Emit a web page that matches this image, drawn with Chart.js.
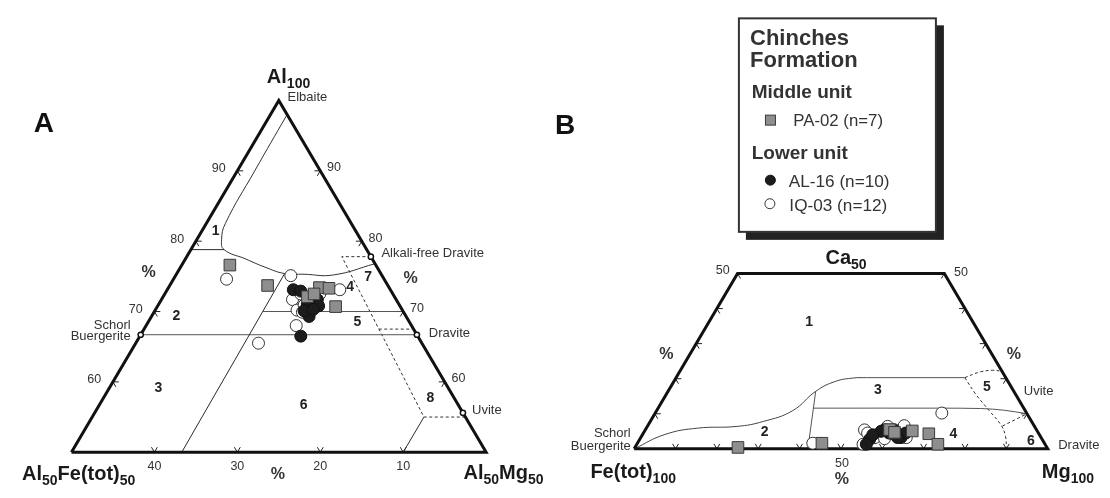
<!DOCTYPE html>
<html>
<head>
<meta charset="utf-8">
<title>Chinches Formation tourmaline - ternary diagrams</title>
<script src="https://cdn.jsdelivr.net/npm/chart.js@4.4.1/dist/chart.umd.min.js"></script>
<style>
  html, body { margin: 0; padding: 0; background: #fff; }
  canvas { display: block; }
</style>
</head>
<body>
<canvas id="tern" width="1110" height="498"></canvas>
<script>
const FONT = '"Liberation Sans", Arial, Helvetica, sans-serif';

// ---------- diagram A : Al100 / Al50Fe(tot)50 / Al50Mg50 ----------
// every pair is [Al %, Mg %]; Fe(tot) = 100 - Al - Mg
const aPA02 = [[76.6, 5.8], [73.7, 11.8], [73.4, 18.2], [73.3, 19.4], [72.1, 17.4], [70.7, 21.5], [72.5, 18.0]];
const aAL16 = [[73.1, 15.2], [72.9, 16.2], [71.1, 17.9], [71.7, 18.8], [70.8, 19.4],
               [69.3, 19.0], [66.5, 19.4], [70.1, 18.0], [72.3, 17.9], [70.3, 19.0]];
const aIQ03 = [[74.6, 6.4], [75.1, 13.9], [71.7, 15.8], [70.2, 17.1], [68.0, 18.1], [73.1, 20.8],
               [65.5, 14.8], [72.5, 16.4], [70.9, 17.6], [71.7, 18.4], [72.5, 18.7], [69.9, 17.9]];

// field boundaries (Henry & Guidotti 1985)
const aCurve1 = [[98, 2], [90, 2.1], [82.5, 2.3], [80.2, 3.0], [78.8, 4.0], [77.5, 7.2],
                 [76.3, 10.2], [75.4, 13.0], [75.3, 15.4], [75.2, 19.0], [76.8, 23.2]];
const aSolid = [
  [[78.8, 0], [78.8, 4.0]],
  [[50, 13.3], [75.4, 13.0]],
  [[50, 40], [55, 40]]
];
const aLevels = [
  [[70, 13.1], [70, 30]],
  [[66.7, 0], [66.7, 33.3]]
];
const aDashed = [
  [[77.8, 22.2], [77.8, 18.7], [55, 40], [55, 45]],
  [[67.5, 28.3], [67.5, 32.5]]
];
const aEndMembers = [[77.8, 22.2], [66.7, 33.3], [55.6, 44.4], [66.7, 0]];
const aSideTicks = [60, 70, 80, 90];       // Al on both sloping sides
const aBaseTicks = [40, 30, 20, 10];       // Fe(tot) along the base

// ---------- diagram B : Ca / Fe(tot)100 / Mg100 (cut at Ca50) ----------
// every pair is [Ca %, Mg %]; Fe(tot) = 100 - Ca - Mg
const bPA02 = [[0.4, 24.9], [1.6, 44.6], [5.5, 59.0], [4.7, 60.6], [5.1, 64.7], [4.3, 69.1], [1.3, 72.8]];
const bAL16 = [[2.7, 55.6], [1.3, 55.5], [5.4, 57.8], [3.2, 62.9], [4.5, 63.4],
               [4.5, 59.4], [5.0, 57.2], [3.2, 62.1], [4.0, 55.7], [5.4, 60.2]];
const bIQ03 = [[5.4, 53.0], [1.3, 54.7], [6.6, 62.0], [10.2, 69.3], [1.6, 42.4], [6.4, 58.1],
               [3.2, 56.6], [4.0, 62.1], [2.9, 59.1], [4.3, 60.3], [4.5, 54.2], [3.2, 64.2]];

const bCurve12 = [[0, 0], [4.1, 5.4], [5.9, 12.4], [6.4, 21.7], [7.8, 27.3], [10.9, 32.9],
                  [16.4, 35.7], [19.2, 39.0], [20.2, 43.0], [20.3, 46]];
const bSolid = [
  [[20.3, 46], [20.3, 69.8]],
  [[16.4, 35.7], [0, 42]]
];
const bCurve34 = [[11.6, 37.6], [11.6, 60], [11.5, 78], [11.0, 84], [10, 90]];
const bDashedUp = [[20.3, 69.8], [21.9, 72.6], [22.4, 75.5], [22.1, 77.9]];
const bDashedDown = [[20.3, 69.8], [15.5, 74.9], [10.9, 80.4], [6.8, 85.3], [3.6, 88.0], [0, 90]];
const bDashedShort = [[6.5, 85.8], [10, 90]];
const bSideTicks = [10, 20, 30, 40, 50];   // Ca
const bBaseTicks = [10, 20, 30, 40, 50, 60, 70, 80, 90];   // Mg

// ---------- projection ternary -> canvas units ----------
const SIN60 = Math.sqrt(3) / 2;
const frameA = { left: 63.3, right: 485, base: 460 };
const frameB = { left: 635.5, right: 1056, base: 456.5 };

const projA = (al, mg) => {
  const w = frameA.right - frameA.left;
  const a = (al - 50) / 50, m = mg / 50;
  return { x: frameA.left + w * (m + a / 2), y: frameA.base - w * SIN60 * a };
};
const projB = (ca, mg) => {
  const w = frameB.right - frameB.left;
  const c = ca / 100, m = mg / 100;
  return { x: frameB.left + w * (m + c / 2), y: frameB.base - w * SIN60 * c };
};

const pts = (proj, arr) => arr.map(p => proj(p[0], p[1]));
const GAP = { x: null, y: null };
const multi = (proj, list) => {
  const out = [];
  list.forEach((seg, i) => {
    if (i) out.push(GAP);
    seg.forEach(p => out.push(proj(p[0], p[1])));
  });
  return out;
};

// little chevrons pointing into the triangle
const rot = (v, t) => ({ x: v.x * Math.cos(t) - v.y * Math.sin(t), y: v.x * Math.sin(t) + v.y * Math.cos(t) });
function inward(p, q, c) {
  let n = { x: -(q.y - p.y), y: q.x - p.x };
  const l = Math.hypot(n.x, n.y);
  n = { x: n.x / l, y: n.y / l };
  if ((c.x - p.x) * n.x + (c.y - p.y) * n.y < 0) n = { x: -n.x, y: -n.y };
  return n;
}
function chevrons(list, len) {
  const out = [];
  list.forEach(([p, n], i) => {
    if (i) out.push(GAP);
    const a1 = rot(n, Math.PI / 6), a2 = rot(n, -Math.PI / 6);
    out.push({ x: p.x + a1.x * len, y: p.y + a1.y * len }, { x: p.x, y: p.y },
             { x: p.x + a2.x * len, y: p.y + a2.y * len });
  });
  return out;
}

const A_fe = projA(50, 0), A_mg = projA(50, 50), A_al = projA(100, 0);
const A_c = { x: (A_fe.x + A_mg.x + A_al.x) / 3, y: (A_fe.y + A_mg.y + A_al.y) / 3 };
const nAL = inward(A_fe, A_al, A_c), nAR = inward(A_mg, A_al, A_c), nAB = inward(A_fe, A_mg, A_c);
const ticksA = chevrons([
  ...aSideTicks.map(v => [projA(v, 0), nAL]),
  ...aSideTicks.map(v => [projA(v, 100 - v), nAR]),
  ...aBaseTicks.map(v => [projA(50, 50 - v), nAB])
], 6);

const B_fe = projB(0, 0), B_mg = projB(0, 100), B_tr = projB(50, 50), B_tl = projB(50, 0);
const B_c = projB(33, 33);
const nBL = inward(B_fe, B_tl, B_c), nBR = inward(B_mg, B_tr, B_c), nBB = inward(B_fe, B_mg, B_c);
const ticksB = chevrons([
  ...bSideTicks.map(v => [projB(v, 0), nBL]),
  ...bSideTicks.map(v => [projB(v, 100 - v), nBR]),
  ...bBaseTicks.map(v => [projB(0, v), nBB])
], 6);

// ---------- datasets ----------
const lineDs = (data, o) => Object.assign({
  data, showLine: true, pointRadius: 0, fill: false, tension: 0,
  borderColor: '#333', borderWidth: 1, order: 8
}, o);
const markDs = (data, style, o) => Object.assign({
  data, showLine: false, pointStyle: style, borderWidth: 1
}, o);

const squareStyle = { pointRadius: 8.2, backgroundColor: '#8e8e8e', borderColor: '#3a3a3a', order: 2 };
const blackStyle = { pointRadius: 6, backgroundColor: '#1c1c1c', borderColor: '#111', order: 3 };
const whiteStyle = { pointRadius: 6, backgroundColor: '#fff', borderColor: '#333', order: 4 };

const datasets = [
  lineDs([A_fe, A_mg, A_al, A_fe], { borderWidth: 3, borderColor: '#111', borderJoinStyle: 'miter', order: 6 }),
  lineDs([B_fe, B_mg, B_tr, B_tl, B_fe], { borderWidth: 3, borderColor: '#111', borderJoinStyle: 'miter', order: 6 }),
  lineDs(pts(projA, aCurve1), { tension: 0.45 }),
  lineDs(multi(projA, aSolid), { borderColor: '#2a2a2a' }),
  lineDs(multi(projA, aLevels), { borderColor: '#555' }),
  lineDs(multi(projA, aDashed), { borderDash: [3, 2.5] }),
  lineDs(ticksA, { borderColor: '#222' }),
  lineDs(pts(projB, bCurve12), { tension: 0.45, borderColor: '#444' }),
  lineDs(multi(projB, bSolid), { borderColor: '#555' }),
  lineDs(pts(projB, bCurve34), { tension: 0.35, borderColor: '#555' }),
  lineDs(pts(projB, bDashedUp), { tension: 0.4, borderDash: [3, 2.5] }),
  lineDs(pts(projB, bDashedDown), { tension: 0.4, borderDash: [3, 2.5] }),
  lineDs(pts(projB, bDashedShort), { borderDash: [3, 2.5] }),
  lineDs(ticksB, { borderColor: '#222' }),
  markDs(pts(projA, aEndMembers), 'circle',
    { pointRadius: 2.6, backgroundColor: '#fff', borderColor: '#111', borderWidth: 1.5, order: 5 }),
  markDs(pts(projA, aIQ03), 'circle', whiteStyle),
  markDs(pts(projA, aAL16), 'circle', blackStyle),
  markDs(pts(projA, aPA02), 'rect', squareStyle),
  markDs(pts(projB, bIQ03), 'circle', whiteStyle),
  markDs(pts(projB, bAL16), 'circle', blackStyle),
  markDs(pts(projB, bPA02), 'rect', squareStyle)
];

// ---------- texts ----------
function put(ctx, str, x, y, size, o = {}) {
  ctx.font = (o.bold ? 'bold ' : '') + size + 'px ' + FONT;
  ctx.fillStyle = o.color || '#333';
  ctx.textAlign = o.align || 'center';
  ctx.textBaseline = o.base || 'middle';
  ctx.fillText(str, x, y);
}
function putSub(ctx, parts, x, y, align) {
  const font = sub => 'bold ' + (sub ? 14 : 20) + 'px ' + FONT;
  let w = 0;
  parts.forEach(([t, sub]) => { ctx.font = font(sub); w += ctx.measureText(t).width; });
  let cx = align === 'right' ? x - w : x;
  ctx.fillStyle = '#1a1a1a';
  ctx.textAlign = 'left';
  ctx.textBaseline = 'alphabetic';
  parts.forEach(([t, sub]) => {
    ctx.font = font(sub);
    ctx.fillText(t, cx, y + (sub ? 5 : 0));
    cx += ctx.measureText(t).width;
  });
}

const textPlugin = {
  id: 'ternaryText',
  afterDatasetsDraw(chart) {
    const ctx = chart.ctx;
    const sx = chart.scales.x, sy = chart.scales.y;
    const X = v => sx.getPixelForValue(v), Y = v => sy.getPixelForValue(v);
    ctx.save();

    // panel letters
    put(ctx, 'A', X(25), Y(128), 28, { bold: true, align: 'left', base: 'alphabetic', color: '#111' });
    put(ctx, 'B', X(555), Y(130), 28, { bold: true, align: 'left', base: 'alphabetic', color: '#111' });

    // apex labels
    putSub(ctx, [['Al', 0], ['100', 1]], X(262), Y(77));
    putSub(ctx, [['Al', 0], ['50', 1], ['Fe(tot)', 0], ['50', 1]], X(13), Y(489));
    putSub(ctx, [['Al', 0], ['50', 1], ['Mg', 0], ['50', 1]], X(462), Y(488));
    putSub(ctx, [['Ca', 0], ['50', 1]], X(830), Y(265));
    putSub(ctx, [['Fe(tot)', 0], ['100', 1]], X(678), Y(487), 'right');
    putSub(ctx, [['Mg', 0], ['100', 1]], X(1050), Y(487));

    // tick labels
    aSideTicks.forEach(v => {
      const l = projA(v, 0), r = projA(v, 100 - v);
      put(ctx, String(v), X(l.x - 19), Y(l.y - 2), 12.5);
      put(ctx, String(v), X(r.x + 14), Y(r.y - 3), 12.5);
    });
    aBaseTicks.forEach(v => {
      const p = projA(50, 50 - v);
      put(ctx, String(v), X(p.x), Y(p.y + 15), 12.5);
    });
    put(ctx, '50', X(B_tl.x - 15), Y(B_tl.y - 3), 12.5);
    put(ctx, '50', X(B_tr.x + 17), Y(B_tr.y - 1), 12.5);
    put(ctx, '50', X(projB(0, 50).x + 1), Y(471.7), 12.5);

    // percent signs
    [[141.7, 273.3], [408.3, 280], [273.3, 483.3], [668.3, 359], [1021.7, 359], [846.7, 488.3]]
      .forEach(([x, y]) => put(ctx, '%', X(x), Y(y), 16, { bold: true }));

    // field numbers
    [['1', 210, 230], ['2', 170, 318.3], ['3', 151.7, 393.3], ['4', 346.7, 288.3], ['5', 354, 325],
     ['6', 299.3, 410.7], ['7', 365, 278.3], ['8', 428.3, 404],
     ['1', 813.3, 325], ['2', 768.3, 439], ['3', 883.3, 396], ['4', 960, 441.7], ['5', 994.3, 392.3], ['6', 1039, 448.3]]
      .forEach(([t, x, y]) => put(ctx, t, X(x), Y(y), 14, { bold: true, color: '#222' }));

    // end-member names
    put(ctx, 'Elbaite', X(283), Y(92), 13, { align: 'left' });
    put(ctx, 'Alkali-free Dravite', X(378.5), Y(254), 13, { align: 'left' });
    put(ctx, 'Dravite', X(426.7), Y(337), 13, { align: 'left' });
    put(ctx, 'Uvite', X(470.7), Y(417), 13, { align: 'left' });
    put(ctx, 'Schorl', X(123.5), Y(328.3), 13, { align: 'right' });
    put(ctx, 'Buergerite', X(123.5), Y(339.8), 13, { align: 'right' });
    put(ctx, 'Schorl', X(632), Y(440), 13, { align: 'right' });
    put(ctx, 'Buergerite', X(632), Y(453.5), 13, { align: 'right' });
    put(ctx, 'Uvite', X(1031.7), Y(397.3), 13, { align: 'left' });
    put(ctx, 'Dravite', X(1066.7), Y(453.3), 13, { align: 'left' });

    // legend box with drop shadow
    const bx = X(742), by = Y(9.5), bw = 197, bh = 213.5;
    ctx.fillStyle = '#222';
    ctx.fillRect(bx + 7, by + 7, bw + 1, bh + 1);
    ctx.fillStyle = '#fff';
    ctx.fillRect(bx, by, bw, bh);
    ctx.strokeStyle = '#333';
    ctx.lineWidth = 2;
    ctx.strokeRect(bx, by, bw, bh);

    const head = { bold: true, align: 'left', base: 'alphabetic', color: '#333' };
    const item = { align: 'left', base: 'alphabetic', color: '#333' };
    put(ctx, 'Chinches', X(753.3), Y(37.5), 22, head);
    put(ctx, 'Formation', X(753.3), Y(59.5), 22, head);
    put(ctx, 'Middle unit', X(755), Y(91.7), 19, head);
    put(ctx, 'PA-02 (n=7)', X(797.3), Y(121.7), 16.8, item);
    put(ctx, 'Lower unit', X(755), Y(156), 19, head);
    put(ctx, 'AL-16 (n=10)', X(792.7), Y(184.3), 17.2, item);
    put(ctx, 'IQ-03 (n=12)', X(793.3), Y(209.3), 17.2, item);

    ctx.lineWidth = 1;
    ctx.fillStyle = '#8e8e8e'; ctx.strokeStyle = '#3a3a3a';
    ctx.fillRect(X(769), Y(110), 10, 10); ctx.strokeRect(X(769), Y(110), 10, 10);
    ctx.beginPath(); ctx.arc(X(774), Y(177.5), 5, 0, 2 * Math.PI);
    ctx.fillStyle = '#1c1c1c'; ctx.fill(); ctx.strokeStyle = '#111'; ctx.stroke();
    ctx.beginPath(); ctx.arc(X(773.5), Y(202), 5, 0, 2 * Math.PI);
    ctx.fillStyle = '#fff'; ctx.fill(); ctx.strokeStyle = '#333'; ctx.stroke();

    ctx.restore();
  }
};

new Chart(document.getElementById('tern'), {
  type: 'scatter',
  data: { datasets },
  options: {
    responsive: false,
    animation: false,
    devicePixelRatio: 1,
    events: [],
    layout: { padding: 0 },
    plugins: { legend: { display: false }, tooltip: { enabled: false } },
    scales: {
      x: { type: 'linear', min: 0, max: 1110, display: false },
      y: { type: 'linear', min: 0, max: 498, reverse: true, display: false }
    }
  },
  plugins: [textPlugin]
});
</script>
</body>
</html>
